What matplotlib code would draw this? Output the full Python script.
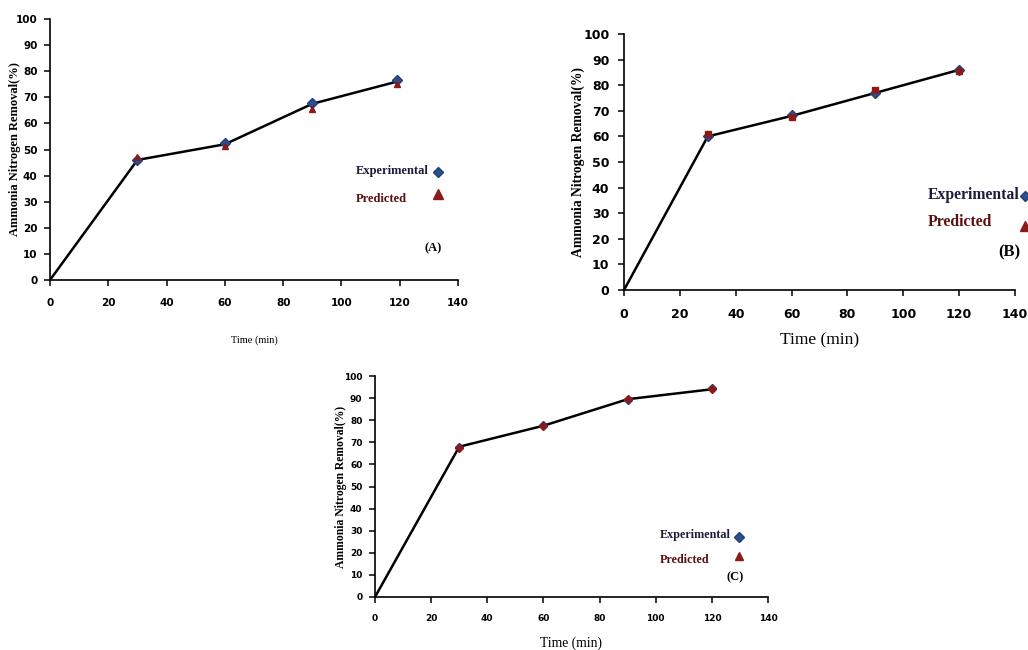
import matplotlib
matplotlib.use("Agg")
import matplotlib.pyplot as plt

# ---------------- data ----------------
time_line = [0, 30, 60, 90, 120]
time_pts = [30, 60, 90, 120]
time_pts_a = [30, 60, 90, 119]
time_line_a = [0, 30, 60, 90, 119]

line_a = [0, 46, 52, 67.5, 76]
exp_a = [46, 52.5, 68, 76.5]
pred_a = [47, 51.5, 65.5, 75]

line_b = [0, 60, 68, 77, 86]
exp_b = [60, 68.5, 77, 86]
pred_b = [61, 67.5, 78, 85.5]

line_c = [0, 68, 77.5, 89.5, 94]
exp_c = [68, 78, 89, 94.5]
pred_c = [67.5, 77.5, 89.5, 94]

x_ticks = [0, 20, 40, 60, 80, 100, 120, 140]
y_ticks = [0, 10, 20, 30, 40, 50, 60, 70, 80, 90, 100]
labels = ["Experimental", "Predicted"]
panel_names = ["(A)", "(B)", "(C)"]
y_label = "Ammonia Nitrogen Removal(%)"
x_label = "Time (min)"

EXP_C = "#2b4f8f"
EXP_EDGE = "#1f3f7a"
PRED_C = "#8b1a1a"
TXT_EXP = "#1b1b3a"
TXT_PRED = "#5a0f0f"

W, H = 1028, 650
fig = plt.figure(figsize=(W / 100, H / 100), dpi=100)

SERIF = "Liberation Serif"
SANS = "DejaVu Sans"


def make_panel(rect, xl, yl, xe, ye, xp, yp, pred_marker, name,
               tick_fs, ylab_fs, xlab_fs, key_fs, key_text_x, key_text_y,
               key_mark_x, key_mark_y, name_xy, name_fs, ylab_pad, xlab_pad, msize,
               xpad, ypad):
    l, r, t, b = rect
    ax = fig.add_axes([l / W, (H - b) / H, (r - l) / W, (b - t) / H])

    def ax_x(px):
        return (px - l) / (r - l)

    def ax_y(py):
        return (b - py) / (b - t)

    ax.plot(xl, yl, color="black", lw=1.8, zorder=2)
    ax.plot(xe, ye, linestyle="none", marker="D", ms=msize, color=EXP_C,
            mec=EXP_EDGE, zorder=3)
    ax.plot(xp, yp, linestyle="none", marker=pred_marker, ms=msize, color=PRED_C,
            mec=PRED_C, zorder=3)
    ax.set_xlim(0, 140)
    ax.set_ylim(0, 100)
    ax.set_xticks(x_ticks)
    ax.set_yticks(y_ticks)
    for s in ["top", "right"]:
        ax.spines[s].set_visible(False)
    for s in ["left", "bottom"]:
        ax.spines[s].set_linewidth(1.2)
    ax.tick_params(direction="out", length=4, width=1.1, labelsize=tick_fs)
    ax.tick_params(axis="x", pad=xpad)
    ax.tick_params(axis="y", pad=ypad)
    for lab in ax.get_xticklabels() + ax.get_yticklabels():
        lab.set_family(SANS)
        lab.set_fontweight("bold")
    ax.set_ylabel(y_label, fontfamily=SERIF, fontweight="bold",
                  fontsize=ylab_fs, labelpad=ylab_pad)
    ax.set_xlabel(x_label, fontfamily=SERIF, fontsize=xlab_fs, labelpad=xlab_pad)

    # key (text left-aligned, markers in a column to the right)
    for lab, col, ty in zip(labels, [TXT_EXP, TXT_PRED], key_text_y):
        ax.text(ax_x(key_text_x), ax_y(ty), lab, transform=ax.transAxes,
                ha="left", va="center", color=col, fontfamily=SERIF,
                fontweight="bold", fontsize=key_fs)
    ax.plot([ax_x(key_mark_x)], [ax_y(key_mark_y[0])], transform=ax.transAxes,
            marker="D", ms=msize + 0.5, color=EXP_C, mec=EXP_EDGE, linestyle="none",
            clip_on=False)
    ax.plot([ax_x(key_mark_x)], [ax_y(key_mark_y[1])], transform=ax.transAxes,
            marker="^", ms=msize + 1.5, color=PRED_C, mec=PRED_C, linestyle="none",
            clip_on=False)
    ax.text(ax_x(name_xy[0]), ax_y(name_xy[1]), name, transform=ax.transAxes,
            ha="center", va="center", fontfamily=SERIF, fontweight="bold",
            fontsize=name_fs)
    return ax


make_panel((50, 458, 19, 280), time_line_a, line_a, time_pts_a, exp_a, time_pts_a,
           pred_a, "^", panel_names[0], tick_fs=7.5, ylab_fs=9, xlab_fs=7.5, key_fs=9,
           key_text_x=356, key_text_y=(171, 199), key_mark_x=438, key_mark_y=(172, 194),
           name_xy=(433, 248), name_fs=9, ylab_pad=-3.5, xlab_pad=20, msize=5,
           xpad=9, ypad=5)

make_panel((624, 1015, 34, 290), time_line, line_b, time_pts, exp_b, time_pts, pred_b,
           "s", panel_names[1], tick_fs=9, ylab_fs=9.8, xlab_fs=12.5, key_fs=11.3,
           key_text_x=928, key_text_y=(195, 222), key_mark_x=1025, key_mark_y=(196, 226),
           name_xy=(1009, 252), name_fs=12, ylab_pad=-1, xlab_pad=8, msize=5,
           xpad=9, ypad=6.5)

make_panel((375, 768, 376, 597), time_line, line_c, time_pts, exp_c, time_pts, pred_c,
           "D", panel_names[2], tick_fs=6.5, ylab_fs=8.4, xlab_fs=9.8, key_fs=8.7,
           key_text_x=660, key_text_y=(535, 560), key_mark_x=739, key_mark_y=(537, 556),
           name_xy=(735, 577), name_fs=9, ylab_pad=-2.5, xlab_pad=10, msize=4.5,
           xpad=8, ypad=5)

fig.savefig("out.png", dpi=100)
